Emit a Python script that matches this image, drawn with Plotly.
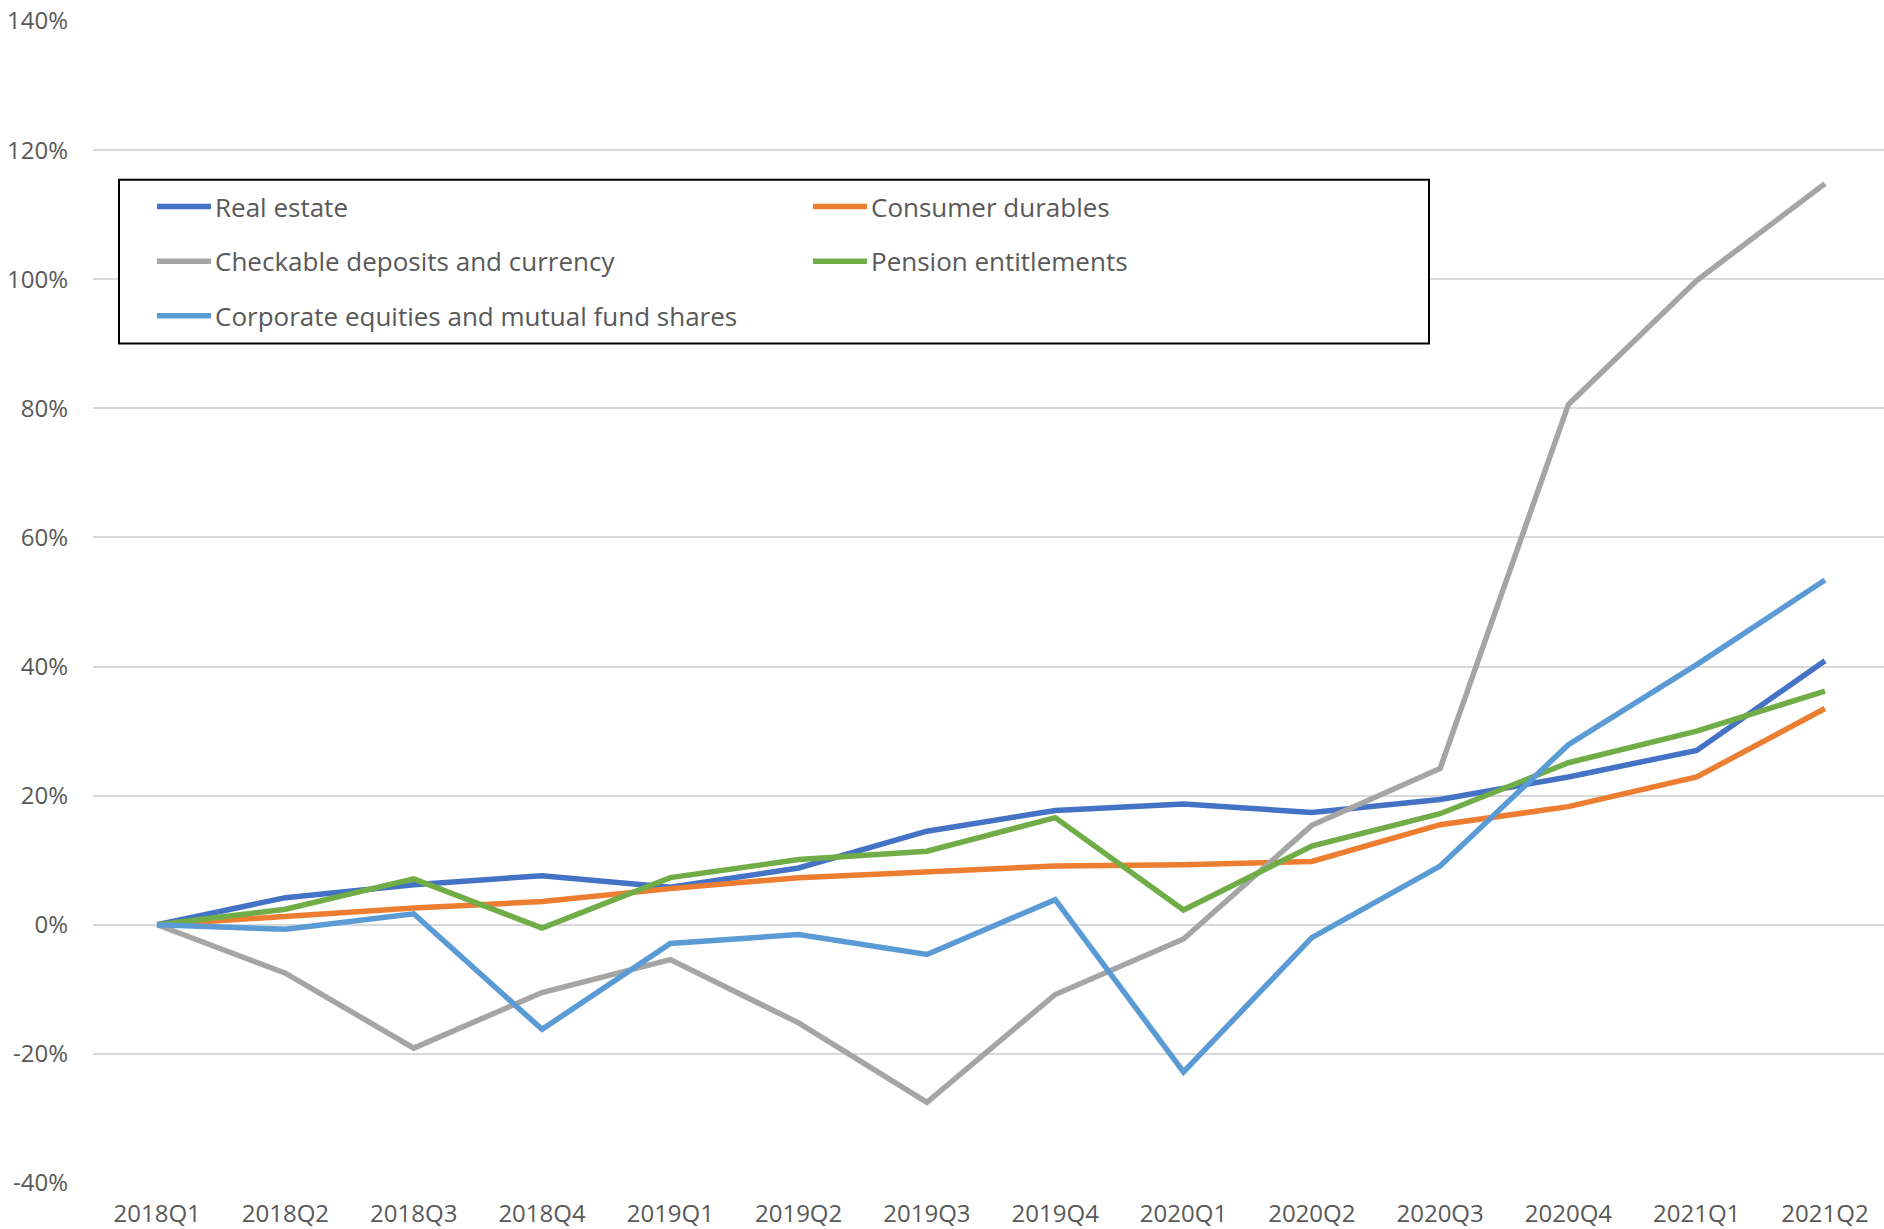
import plotly.graph_objects as go

quarters = ["2018Q1", "2018Q2", "2018Q3", "2018Q4", "2019Q1", "2019Q2", "2019Q3",
            "2019Q4", "2020Q1", "2020Q2", "2020Q3", "2020Q4", "2021Q1", "2021Q2"]

real_estate = [0, 4.2, 6.2, 7.6, 5.8, 8.8, 14.5, 17.7, 18.7, 17.4, 19.4, 22.9, 27.0, 40.9]
consumer_durables = [0, 1.3, 2.6, 3.6, 5.6, 7.3, 8.2, 9.1, 9.3, 9.8, 15.5, 18.3, 22.9, 33.5]
checkable_deposits = [0, -7.5, -19.1, -10.5, -5.4, -15.2, -27.5, -10.8, -2.2, 15.4, 24.2, 80.6, 99.8, 114.8]
pension_entitlements = [0, 2.4, 7.1, -0.5, 7.3, 10.1, 11.4, 16.6, 2.3, 12.2, 17.2, 25.1, 30.0, 36.2]
corporate_equities = [0, -0.7, 1.7, -16.2, -2.9, -1.5, -4.6, 3.9, -22.8, -2.0, 9.1, 27.9, 40.3, 53.4]

series_names = ["Real estate", "Consumer durables", "Checkable deposits and currency",
                "Pension entitlements", "Corporate equities and mutual fund shares"]
series_values = [real_estate, consumer_durables, checkable_deposits,
                 pension_entitlements, corporate_equities]
series_colors = ["#4472C4", "#ED7D31", "#A5A5A5", "#70AD47", "#5B9BD5"]

y_tickvals = [-40, -20, 0, 20, 40, 60, 80, 100, 120, 140]
y_ticktext = ["-40%", "-20%", "0%", "20%", "40%", "60%", "80%", "100%", "120%", "140%"]

W, H = 1884, 1229
ML, MR, MT, MB = 93, 0, 21, 37
PW, PH = W - ML - MR, H - MT - MB
FONT = "Open Sans, Noto Sans, sans-serif"
TXT = "#595959"


def px(x, y):
    return (x - ML) / PW, (H - MB - y) / PH


fig = go.Figure()
for name, vals, col in zip(series_names, series_values, series_colors):
    fig.add_trace(go.Scatter(x=quarters, y=vals, name=name, mode="lines",
                             line=dict(color=col, width=5.5), showlegend=False))

# manual legend box
x0, y0 = px(119, 181)
x1, y1 = px(1429, 346)
fig.add_shape(type="rect", xref="paper", yref="paper", x0=x0, y0=y1, x1=x1, y1=y0,
              line=dict(color="black", width=2), fillcolor="white", layer="above")

legend_pos = [(157, 208), (813, 208), (157, 263), (813, 263), (157, 318)]
for name, col, (lx, ly) in zip(series_names, series_colors, legend_pos):
    a0, b0 = px(lx, ly)
    a1, _ = px(lx + 54, ly)
    fig.add_shape(type="line", xref="paper", yref="paper", x0=a0, y0=b0, x1=a1, y1=b0,
                  line=dict(color=col, width=5.5), layer="above")
    t0, _ = px(lx + 56, ly)
    fig.add_annotation(xref="paper", yref="paper", x=t0, y=b0, text=name,
                       showarrow=False, xanchor="left", yanchor="middle",
                       font=dict(family=FONT, size=26, color=TXT))

fig.update_layout(
    width=W, height=H,
    margin=dict(l=ML, r=MR, t=MT, b=MB, pad=0),
    paper_bgcolor="white", plot_bgcolor="white",
    font=dict(family=FONT, size=24, color=TXT),
    showlegend=False,
)
fig.update_xaxes(type="category", range=[-0.5, 13.46], showgrid=False, showline=False,
                 zeroline=False, ticks="", ticklabelstandoff=14,
                 tickfont=dict(family=FONT, size=24, color=TXT))
fig.update_yaxes(range=[-40, 140], tickvals=y_tickvals, ticktext=y_ticktext,
                 showgrid=True, gridcolor="#D9D9D9", gridwidth=1.5, zeroline=False,
                 showline=False, ticks="", ticklabelstandoff=24,
                 tickfont=dict(family=FONT, size=24, color=TXT))

fig.write_html(
    "out.html",
    config={"displayModeBar": False, "responsive": False},
    post_script="document.body.style.margin='0';document.body.style.padding='0';",
)
